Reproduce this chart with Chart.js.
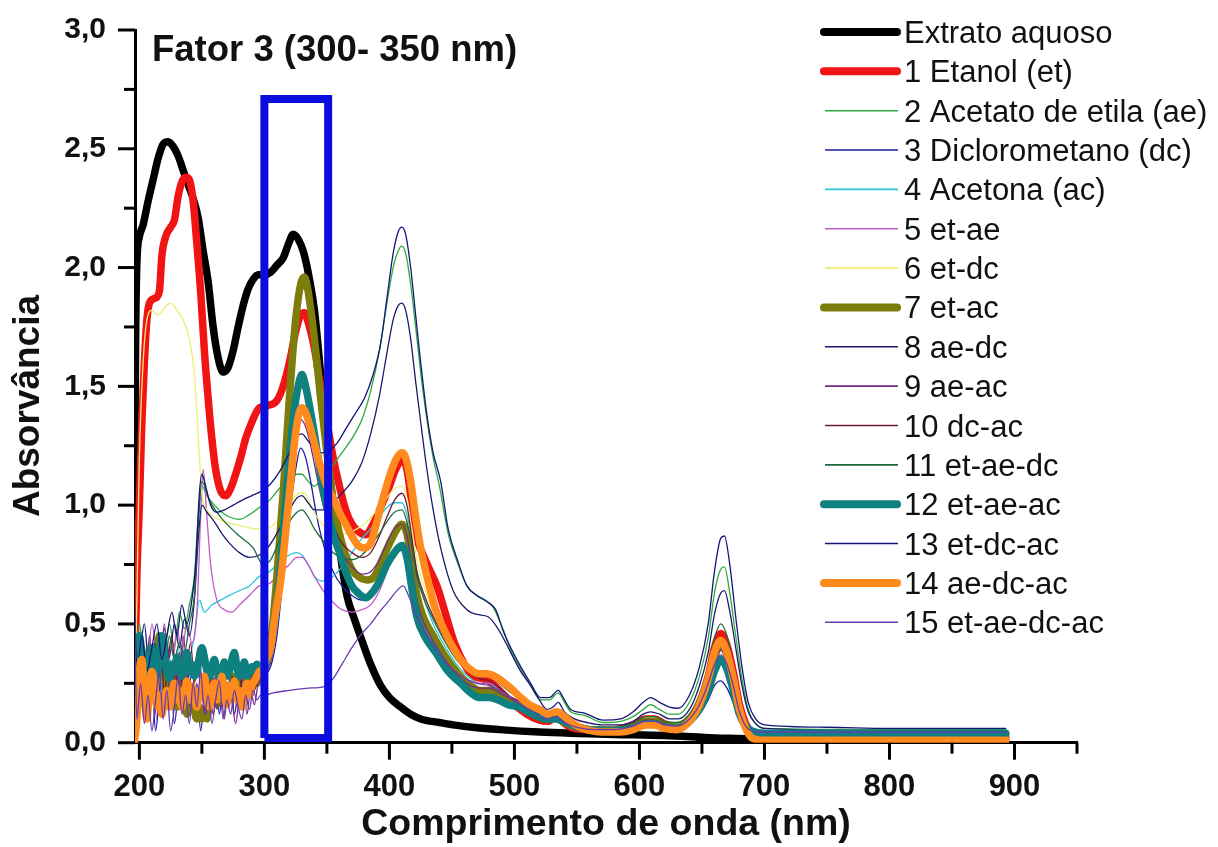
<!DOCTYPE html>
<html><head><meta charset="utf-8">
<script src="https://cdn.jsdelivr.net/npm/chart.js@4.4.1/dist/chart.umd.min.js"></script>
<style>html,body{margin:0;padding:0;background:#fff}#wrap{position:relative;width:1218px;height:847px}</style>
</head><body><div id="wrap"><canvas id="c"></canvas></div>
<script>
const FONT = "'Liberation Sans', Arial, Helvetica, sans-serif";

// ---- tick values / labels ----
const xMajorTicks = [200,300,400,500,600,700,800,900];
const xMinorTicks = [250,350,450,550,650,750,850,950];
const yMajorTicks = [0,0.5,1,1.5,2,2.5,3];
const yMinorTicks = [0.25,0.75,1.25,1.75,2.25,2.75];
const yTickLabels = ['0,0','0,5','1,0','1,5','2,0','2,5','3,0'];

// ---- series: [wavelength nm, absorbance] ----
const extrato = [[196,0.85],[197,1.7],[198,2.02],[200,2.13],[203,2.18],[207,2.28],[211,2.37],[215,2.46],[219,2.52],[223,2.53],[227,2.51],[231,2.47],[235,2.41],[239,2.35],[243,2.29],[247,2.21],[251,2.07],[255,1.94],[259,1.75],[263,1.62],[267,1.56],[271,1.58],[275,1.65],[279,1.75],[283,1.84],[287,1.91],[291,1.95],[295,1.97],[300,1.97],[305,1.98],[310,2.01],[315,2.04],[320,2.11],[323,2.14],[327,2.12],[331,2.07],[335,1.98],[340,1.82],[345,1.55],[350,1.25],[355,1.0],[360,0.82],[366,0.62],[372,0.52],[378,0.43],[385,0.33],[393,0.24],[400,0.19],[409,0.15],[417,0.12],[425,0.10],[440,0.085],[451,0.075],[470,0.063],[491,0.054],[520,0.045],[545,0.04],[580,0.035],[620,0.03],[660,0.02],[690,0.015],[700,0.01],[800,0.008],[893,0.005]];

const etanol = [[196,0.2],[198,0.7],[200,1.0],[202,1.35],[204,1.6],[206,1.78],[208,1.85],[212,1.87],[216,1.9],[218,2.05],[221,2.13],[225,2.17],[228,2.2],[231,2.3],[234,2.36],[237,2.38],[240,2.37],[243,2.28],[246,2.1],[249,1.9],[252,1.65],[255,1.45],[258,1.28],[261,1.15],[265,1.06],[269,1.04],[273,1.07],[277,1.13],[281,1.2],[285,1.28],[290,1.35],[296,1.41],[303,1.42],[310,1.44],[315,1.5],[320,1.6],[325,1.73],[329,1.8],[332,1.81],[335,1.77],[340,1.66],[345,1.5],[350,1.35],[355,1.2],[360,1.08],[365,0.98],[370,0.92],[375,0.89],[381,0.875],[387,0.92],[393,0.99],[400,1.08],[405,1.15],[410,1.19],[414,1.15],[418,1.0],[422,0.86],[427,0.79],[432,0.73],[438,0.66],[445,0.54],[452,0.42],[460,0.33],[467,0.28],[475,0.27],[482,0.25],[490,0.21],[500,0.16],[510,0.12],[520,0.095],[527,0.09],[533,0.11],[538,0.09],[545,0.065],[560,0.055],[580,0.055],[595,0.075],[605,0.1],[612,0.1],[620,0.08],[630,0.07],[640,0.1],[648,0.17],[655,0.28],[660,0.4],[665,0.46],[670,0.41],[675,0.3],[680,0.16],[685,0.08],[690,0.04],[700,0.025],[800,0.02],[893,0.02]];

const acetato = [[196,0.3],[200,0.5],[204,0.35],[208,0.42],[212,0.3],[216,0.45],[220,0.38],[224,0.5],[228,0.4],[232,0.55],[236,0.48],[240,0.58],[244,0.7],[247,0.95],[250,1.08],[254,1.04],[260,1.0],[266,0.97],[272,0.95],[280,0.94],[288,0.96],[296,0.99],[304,1.02],[312,1.07],[320,1.11],[326,1.13],[330,1.13],[335,1.1],[340,1.08],[347,1.12],[355,1.17],[362,1.22],[370,1.28],[378,1.36],[385,1.48],[392,1.65],[398,1.85],[403,2.0],[407,2.07],[410,2.09],[413,2.06],[417,1.93],[421,1.75],[425,1.56],[430,1.36],[435,1.2],[440,1.08],[447,0.88],[455,0.75],[462,0.66],[470,0.62],[477,0.6],[483,0.57],[490,0.49],[497,0.39],[505,0.31],[513,0.24],[521,0.18],[528,0.18],[535,0.21],[540,0.17],[545,0.13],[556,0.115],[571,0.085],[585,0.09],[595,0.11],[603,0.14],[609,0.16],[616,0.14],[624,0.12],[631,0.12],[640,0.17],[648,0.28],[655,0.44],[660,0.63],[665,0.73],[668,0.74],[672,0.64],[677,0.45],[682,0.27],[687,0.14],[693,0.08],[700,0.06],[800,0.055],[893,0.055]];

const diclorometano = [[196,0.05],[198,0.4],[201,0.15],[204,0.3],[207,0.1],[210,0.25],[213,0.05],[216,0.2],[219,0.35],[222,0.15],[225,0.3],[228,0.08],[231,0.22],[234,0.4],[237,0.18],[240,0.3],[243,0.1],[246,0.25],[249,0.05],[252,0.2],[255,0.32],[258,0.15],[261,0.28],[264,0.12],[267,0.25],[270,0.18],[273,0.3],[276,0.12],[279,0.22],[282,0.28],[285,0.15],[288,0.25],[291,0.2],[294,0.28],[297,0.25],[300,0.28],[305,0.32],[310,0.45],[315,0.7],[320,0.95],[325,1.15],[329,1.24],[333,1.2],[337,1.1],[342,0.95],[348,0.82],[355,0.72],[362,0.66],[370,0.62],[378,0.6],[385,0.61],[392,0.66],[398,0.73],[404,0.79],[410,0.81],[414,0.76],[418,0.64],[422,0.53],[428,0.45],[437,0.38],[447,0.31],[457,0.26],[465,0.23],[472,0.22],[480,0.22],[488,0.2],[495,0.18],[505,0.15],[515,0.12],[525,0.09],[533,0.09],[540,0.075],[550,0.06],[565,0.05],[580,0.05],[595,0.06],[605,0.075],[612,0.075],[620,0.065],[630,0.06],[640,0.08],[648,0.12],[655,0.18],[660,0.24],[665,0.26],[670,0.23],[675,0.17],[680,0.1],[685,0.06],[690,0.05],[700,0.045],[800,0.045],[893,0.045]];

const acetona = [[196,0.0],[200,0.2],[204,0.4],[208,0.25],[212,0.35],[216,0.2],[220,0.3],[224,0.15],[228,0.28],[232,0.4],[236,0.25],[240,0.35],[244,0.45],[248,0.6],[252,0.55],[258,0.58],[265,0.6],[272,0.62],[280,0.64],[288,0.66],[296,0.7],[304,0.72],[312,0.76],[320,0.79],[326,0.8],[330,0.79],[335,0.75],[340,0.7],[347,0.68],[355,0.7],[362,0.74],[370,0.8],[378,0.86],[385,0.9],[392,0.95],[398,0.99],[404,1.01],[410,1.01],[414,0.96],[418,0.85],[422,0.72],[428,0.6],[435,0.5],[445,0.4],[455,0.32],[465,0.27],[472,0.25],[480,0.25],[488,0.22],[495,0.2],[505,0.16],[515,0.13],[525,0.11],[533,0.12],[540,0.095],[550,0.075],[565,0.06],[580,0.06],[595,0.075],[605,0.1],[612,0.1],[620,0.085],[630,0.08],[640,0.11],[648,0.18],[655,0.29],[660,0.39],[665,0.44],[670,0.4],[675,0.29],[680,0.15],[685,0.08],[690,0.055],[700,0.045],[800,0.045],[893,0.045]];

const etAe = [[196,0.5],[198,0.2],[202,0.45],[206,0.3],[210,0.5],[214,0.35],[218,0.28],[222,0.42],[226,0.3],[230,0.48],[234,0.38],[238,0.5],[242,0.42],[246,0.55],[249,0.95],[251,1.15],[254,0.95],[257,0.75],[262,0.6],[268,0.56],[274,0.55],[280,0.58],[288,0.62],[296,0.66],[304,0.67],[312,0.71],[320,0.75],[326,0.78],[330,0.78],[335,0.75],[340,0.7],[347,0.64],[355,0.59],[362,0.56],[370,0.55],[378,0.56],[385,0.58],[392,0.64],[398,0.72],[404,0.8],[410,0.83],[414,0.78],[418,0.66],[422,0.55],[428,0.47],[435,0.41],[445,0.34],[455,0.29],[465,0.26],[472,0.25],[480,0.25],[488,0.23],[495,0.2],[505,0.16],[515,0.13],[525,0.1],[533,0.11],[540,0.09],[550,0.07],[565,0.055],[580,0.055],[595,0.07],[605,0.09],[612,0.09],[620,0.075],[630,0.07],[640,0.1],[648,0.16],[655,0.26],[660,0.35],[665,0.39],[670,0.35],[675,0.26],[680,0.14],[685,0.07],[690,0.045],[700,0.035],[800,0.035],[893,0.035]];

const etDc = [[196,0.1],[198,0.6],[200,1.2],[203,1.6],[206,1.78],[210,1.82],[215,1.8],[220,1.83],[225,1.85],[230,1.82],[235,1.78],[240,1.7],[244,1.55],[247,1.3],[250,1.05],[254,0.98],[260,0.95],[268,0.93],[276,0.92],[284,0.91],[292,0.9],[300,0.9],[308,0.92],[316,0.98],[322,1.02],[328,1.05],[332,1.05],[337,1.0],[342,0.95],[350,0.9],[358,0.88],[366,0.88],[374,0.9],[382,0.93],[390,0.98],[398,1.03],[404,1.07],[410,1.08],[414,1.03],[418,0.9],[422,0.77],[428,0.65],[435,0.55],[445,0.44],[455,0.35],[465,0.3],[472,0.28],[480,0.28],[488,0.25],[495,0.22],[505,0.18],[515,0.14],[525,0.12],[533,0.13],[540,0.1],[550,0.08],[565,0.065],[580,0.065],[595,0.08],[605,0.105],[612,0.105],[620,0.09],[630,0.085],[640,0.12],[648,0.2],[655,0.31],[660,0.4],[665,0.44],[670,0.4],[675,0.29],[680,0.15],[685,0.08],[690,0.055],[700,0.045],[800,0.045],[893,0.045]];

const etAc = [[196,0.05],[198,0.3],[200,0.42],[202,0.25],[204,0.18],[206,0.3],[208,0.38],[210,0.28],[212,0.22],[214,0.35],[216,0.45],[218,0.4],[220,0.3],[222,0.18],[224,0.22],[226,0.3],[228,0.2],[230,0.15],[232,0.25],[234,0.3],[236,0.2],[238,0.12],[240,0.18],[242,0.22],[244,0.14],[246,0.1],[248,0.15],[250,0.1],[252,0.14],[254,0.1],[256,0.18],[258,0.26],[260,0.2],[262,0.16],[264,0.22],[266,0.28],[268,0.2],[270,0.24],[272,0.18],[274,0.22],[276,0.28],[278,0.22],[280,0.2],[282,0.26],[284,0.22],[286,0.28],[288,0.24],[290,0.26],[292,0.28],[294,0.25],[296,0.3],[298,0.3],[300,0.32],[305,0.42],[310,0.7],[315,1.05],[320,1.45],[325,1.78],[329,1.93],[332,1.96],[335,1.9],[340,1.7],[345,1.45],[350,1.22],[355,1.02],[360,0.88],[365,0.79],[370,0.73],[375,0.7],[382,0.685],[388,0.7],[395,0.78],[403,0.87],[410,0.92],[414,0.88],[418,0.75],[422,0.62],[427,0.53],[435,0.45],[445,0.36],[455,0.29],[465,0.24],[472,0.22],[480,0.22],[488,0.2],[495,0.18],[505,0.15],[515,0.12],[525,0.1],[533,0.105],[540,0.085],[550,0.065],[565,0.05],[580,0.05],[595,0.065],[605,0.09],[612,0.09],[620,0.075],[630,0.065],[640,0.095],[648,0.16],[655,0.26],[660,0.36],[665,0.41],[670,0.37],[675,0.27],[680,0.14],[685,0.07],[690,0.045],[700,0.035],[800,0.035],[893,0.035]];

const aeDc = [[196,0.2],[200,0.35],[204,0.5],[208,0.3],[212,0.42],[216,0.3],[220,0.48],[224,0.36],[228,0.5],[232,0.4],[236,0.52],[240,0.45],[244,0.6],[247,0.85],[250,1.0],[254,0.97],[260,0.93],[266,0.88],[272,0.84],[280,0.8],[288,0.78],[296,0.79],[304,0.83],[312,0.9],[320,0.98],[326,1.03],[330,1.04],[335,1.01],[340,0.98],[347,0.98],[355,1.01],[362,1.05],[370,1.1],[378,1.18],[385,1.3],[392,1.46],[398,1.64],[403,1.78],[407,1.84],[410,1.85],[413,1.82],[417,1.7],[421,1.52],[425,1.35],[430,1.15],[435,0.98],[441,0.82],[451,0.64],[462,0.56],[470,0.54],[479,0.53],[488,0.47],[497,0.38],[505,0.3],[513,0.24],[520,0.18],[526,0.14],[531,0.15],[535,0.17],[540,0.13],[548,0.1],[558,0.085],[570,0.075],[585,0.075],[595,0.09],[603,0.12],[609,0.13],[616,0.12],[624,0.1],[631,0.1],[640,0.14],[648,0.24],[655,0.38],[660,0.54],[665,0.63],[668,0.64],[672,0.56],[677,0.4],[682,0.24],[687,0.13],[693,0.08],[700,0.06],[800,0.05],[893,0.05]];

const aeAc = [[196,0.3],[199,0.1],[202,0.35],[205,0.2],[208,0.45],[211,0.25],[214,0.1],[217,0.3],[220,0.5],[223,0.28],[226,0.15],[229,0.35],[232,0.22],[235,0.45],[238,0.3],[241,0.15],[244,0.28],[247,0.4],[250,0.25],[253,0.12],[256,0.2],[259,0.3],[262,0.14],[265,0.22],[268,0.1],[271,0.25],[274,0.18],[277,0.08],[280,0.2],[283,0.28],[286,0.12],[289,0.22],[292,0.16],[295,0.25],[298,0.28],[302,0.3],[306,0.36],[310,0.5],[315,0.78],[320,1.05],[325,1.27],[329,1.36],[333,1.33],[337,1.25],[342,1.12],[348,0.98],[355,0.88],[362,0.8],[370,0.74],[378,0.71],[385,0.72],[392,0.77],[398,0.84],[404,0.9],[410,0.92],[414,0.87],[418,0.74],[422,0.6],[428,0.5],[437,0.41],[447,0.33],[457,0.27],[465,0.24],[472,0.23],[480,0.23],[488,0.21],[495,0.19],[505,0.16],[515,0.12],[525,0.1],[533,0.105],[540,0.085],[550,0.065],[565,0.05],[580,0.05],[595,0.065],[605,0.085],[612,0.085],[620,0.07],[630,0.065],[640,0.095],[648,0.15],[655,0.25],[660,0.34],[665,0.39],[670,0.35],[675,0.25],[680,0.13],[685,0.07],[690,0.045],[700,0.035],[800,0.035],[893,0.035]];

const dcAc = [[196,0.15],[199,0.4],[202,0.2],[205,0.35],[208,0.15],[211,0.4],[214,0.25],[217,0.42],[220,0.2],[223,0.35],[226,0.45],[229,0.25],[232,0.38],[235,0.2],[238,0.32],[241,0.42],[244,0.25],[247,0.35],[250,0.18],[253,0.3],[256,0.25],[259,0.12],[262,0.25],[265,0.32],[268,0.2],[271,0.15],[274,0.28],[277,0.22],[280,0.3],[283,0.18],[286,0.26],[289,0.3],[292,0.22],[295,0.28],[298,0.3],[302,0.33],[306,0.42],[310,0.6],[315,0.92],[320,1.22],[325,1.42],[329,1.5],[333,1.46],[337,1.36],[342,1.2],[348,1.04],[355,0.92],[362,0.84],[370,0.8],[378,0.78],[385,0.8],[392,0.87],[398,0.95],[404,1.02],[410,1.05],[414,1.0],[418,0.86],[422,0.72],[428,0.62],[437,0.51],[447,0.41],[457,0.33],[465,0.29],[472,0.27],[480,0.26],[488,0.23],[495,0.2],[505,0.17],[515,0.13],[525,0.1],[533,0.115],[540,0.09],[550,0.065],[565,0.055],[580,0.055],[595,0.07],[605,0.095],[612,0.095],[620,0.08],[630,0.07],[640,0.1],[648,0.17],[655,0.28],[660,0.39],[665,0.44],[670,0.4],[675,0.29],[680,0.15],[685,0.08],[690,0.045],[700,0.03],[800,0.03],[893,0.03]];

const etAeDc = [[196,0.1],[200,0.4],[204,0.25],[208,0.38],[212,0.28],[216,0.4],[220,0.3],[224,0.45],[228,0.35],[232,0.42],[236,0.38],[240,0.5],[244,0.62],[247,0.9],[250,1.1],[256,1.02],[262,0.97],[270,0.92],[280,0.87],[291,0.82],[299,0.75],[305,0.77],[312,0.85],[320,0.93],[326,0.97],[330,0.98],[335,0.95],[340,0.9],[347,0.85],[355,0.8],[362,0.78],[370,0.77],[378,0.79],[385,0.83],[392,0.88],[398,0.93],[404,0.97],[410,0.98],[414,0.93],[418,0.82],[422,0.7],[428,0.6],[435,0.52],[445,0.42],[455,0.34],[465,0.3],[472,0.28],[480,0.28],[488,0.25],[495,0.22],[505,0.18],[515,0.14],[525,0.12],[533,0.13],[540,0.1],[550,0.08],[565,0.065],[580,0.065],[595,0.08],[605,0.11],[612,0.11],[620,0.09],[630,0.085],[640,0.12],[648,0.2],[655,0.32],[660,0.44],[665,0.5],[670,0.45],[675,0.32],[680,0.17],[685,0.09],[690,0.06],[700,0.05],[800,0.045],[893,0.045]];

const etAeAc = [[196,0.1],[198,0.3],[200,0.45],[202,0.38],[204,0.3],[206,0.25],[208,0.35],[210,0.4],[212,0.3],[214,0.28],[216,0.36],[218,0.45],[220,0.38],[222,0.3],[224,0.27],[226,0.33],[228,0.3],[230,0.36],[232,0.3],[234,0.28],[236,0.32],[238,0.38],[240,0.3],[242,0.33],[244,0.28],[246,0.3],[248,0.36],[250,0.4],[252,0.36],[254,0.3],[256,0.28],[258,0.32],[260,0.35],[262,0.3],[264,0.28],[266,0.3],[268,0.34],[270,0.28],[272,0.3],[274,0.35],[276,0.38],[278,0.32],[280,0.28],[282,0.3],[284,0.34],[286,0.28],[288,0.3],[290,0.32],[292,0.3],[294,0.33],[296,0.32],[298,0.3],[300,0.32],[304,0.38],[308,0.5],[312,0.68],[316,0.95],[320,1.2],[324,1.4],[327,1.5],[330,1.55],[333,1.5],[336,1.42],[340,1.3],[345,1.13],[350,0.99],[355,0.88],[360,0.8],[365,0.72],[370,0.66],[375,0.63],[381,0.61],[386,0.63],[392,0.68],[398,0.75],[404,0.8],[410,0.83],[414,0.78],[418,0.65],[422,0.53],[428,0.45],[437,0.38],[447,0.3],[457,0.25],[465,0.21],[472,0.19],[480,0.19],[487,0.18],[495,0.16],[503,0.15],[515,0.12],[525,0.1],[533,0.1],[540,0.09],[548,0.07],[560,0.055],[580,0.05],[595,0.06],[605,0.08],[612,0.08],[620,0.065],[630,0.06],[640,0.09],[648,0.14],[655,0.22],[660,0.3],[665,0.35],[670,0.31],[675,0.22],[680,0.12],[685,0.07],[690,0.05],[700,0.04],[800,0.04],[893,0.04]];

const etDcAc = [[196,0.6],[198,0.3],[202,0.45],[206,0.3],[210,0.4],[214,0.5],[218,0.35],[222,0.45],[226,0.55],[230,0.45],[234,0.58],[238,0.5],[242,0.6],[245,0.75],[248,1.05],[250,1.13],[253,1.08],[257,1.0],[262,0.97],[268,0.98],[275,1.0],[282,1.02],[290,1.04],[298,1.06],[305,1.09],[312,1.14],[320,1.22],[326,1.29],[330,1.3],[335,1.27],[340,1.24],[346,1.22],[352,1.23],[358,1.26],[365,1.32],[372,1.38],[380,1.45],[387,1.55],[393,1.68],[398,1.87],[403,2.06],[407,2.15],[410,2.17],[413,2.14],[417,2.0],[421,1.8],[425,1.6],[430,1.38],[435,1.22],[441,1.1],[447,0.9],[455,0.76],[462,0.66],[470,0.62],[479,0.59],[485,0.56],[491,0.47],[498,0.39],[505,0.32],[513,0.25],[521,0.19],[528,0.19],[535,0.22],[540,0.18],[545,0.14],[556,0.125],[571,0.095],[585,0.1],[595,0.13],[603,0.17],[609,0.19],[616,0.17],[624,0.15],[631,0.145],[640,0.2],[648,0.32],[655,0.5],[660,0.72],[665,0.86],[668,0.87],[672,0.76],[677,0.53],[682,0.32],[687,0.17],[693,0.1],[700,0.075],[750,0.065],[800,0.06],[893,0.06]];

const aeDcAc = [[196,0.0],[198,0.1],[200,0.3],[202,0.35],[204,0.2],[206,0.1],[208,0.22],[210,0.3],[212,0.25],[214,0.15],[216,0.2],[218,0.12],[220,0.18],[222,0.22],[224,0.15],[226,0.2],[228,0.25],[230,0.18],[232,0.22],[234,0.15],[236,0.2],[238,0.26],[240,0.18],[242,0.24],[244,0.2],[246,0.15],[248,0.22],[250,0.2],[252,0.28],[254,0.2],[256,0.15],[258,0.22],[260,0.25],[262,0.18],[264,0.22],[266,0.28],[268,0.2],[270,0.16],[272,0.24],[274,0.2],[276,0.26],[278,0.18],[280,0.22],[282,0.15],[284,0.2],[286,0.25],[288,0.2],[290,0.24],[292,0.26],[294,0.28],[296,0.3],[298,0.3],[300,0.33],[305,0.4],[309,0.55],[313,0.68],[318,0.94],[321,1.1],[324,1.26],[327,1.37],[330,1.41],[333,1.39],[336,1.34],[340,1.26],[345,1.16],[350,1.08],[355,1.03],[360,0.97],[365,0.92],[370,0.87],[375,0.83],[380,0.82],[385,0.84],[390,0.93],[395,1.03],[400,1.12],[405,1.19],[410,1.22],[413,1.2],[417,1.1],[421,0.95],[425,0.82],[430,0.7],[437,0.56],[445,0.46],[452,0.39],[460,0.33],[467,0.3],[472,0.29],[478,0.29],[484,0.28],[490,0.26],[497,0.23],[505,0.19],[512,0.16],[520,0.14],[527,0.12],[534,0.13],[540,0.11],[547,0.08],[555,0.06],[570,0.045],[585,0.045],[595,0.055],[605,0.075],[612,0.075],[620,0.06],[630,0.055],[640,0.09],[648,0.16],[655,0.27],[660,0.38],[665,0.43],[670,0.38],[675,0.27],[680,0.14],[685,0.06],[690,0.02],[700,0.01],[800,0.01],[893,0.01]];

const etAeDcAc = [[196,0.55],[198,0.1],[201,0.25],[204,0.08],[207,0.2],[210,0.05],[213,0.18],[216,0.3],[219,0.1],[222,0.22],[225,0.05],[228,0.15],[231,0.28],[234,0.12],[237,0.2],[240,0.08],[243,0.25],[246,0.15],[249,0.3],[252,0.12],[255,0.2],[258,0.08],[261,0.18],[264,0.26],[267,0.1],[270,0.18],[273,0.12],[276,0.22],[279,0.15],[282,0.1],[285,0.2],[288,0.14],[291,0.22],[294,0.18],[297,0.2],[300,0.2],[307,0.21],[320,0.22],[335,0.23],[347,0.235],[355,0.27],[362,0.33],[370,0.4],[378,0.46],[385,0.5],[392,0.55],[400,0.6],[406,0.64],[411,0.66],[416,0.61],[422,0.53],[430,0.45],[440,0.37],[450,0.31],[460,0.27],[470,0.25],[480,0.24],[488,0.22],[495,0.2],[505,0.16],[515,0.13],[525,0.1],[533,0.11],[540,0.085],[550,0.065],[565,0.055],[580,0.055],[595,0.07],[605,0.09],[612,0.09],[620,0.075],[630,0.07],[640,0.1],[648,0.16],[655,0.25],[660,0.33],[665,0.37],[670,0.33],[675,0.24],[680,0.13],[685,0.07],[690,0.05],[700,0.045],[800,0.045],[893,0.045]];

// highlight box (Fator 3 window)
const boxWl  = [300,300,351,351,300];
const boxAbs = [0.02,2.71,2.71,0.02,0.02];

const seriesLabels = ['Extrato aquoso','1 Etanol (et)','2 Acetato de etila (ae)','3 Diclorometano (dc)','4 Acetona (ac)','5 et-ae','6 et-dc','7 et-ac','8 ae-dc','9 ae-ac','10 dc-ac','11 et-ae-dc','12 et-ae-ac','13 et-dc-ac','14 ae-dc-ac','15 et-ae-dc-ac'];
const seriesData = [extrato,etanol,acetato,diclorometano,acetona,etAe,etDc,etAc,aeDc,aeAc,dcAc,etAeDc,etAeAc,etDcAc,aeDcAc,etAeDcAc];
const seriesColors = ['#000000','#f01414','#2caa3a','#1c1ca0','#28c4d8','#c458c8','#eeee70','#7d7d0c','#1a1a6e','#7a2a8a','#701838','#1d6a3a','#0f8080','#15157a','#ff8a1e','#6a3ab0'];
const seriesThick = [true,true,false,false,false,false,false,true,false,false,false,false,true,false,true,false];

const datasets = seriesData.map((d,i)=>({
  label: seriesLabels[i],
  data: d.map(([x,y])=>({x,y})),
  borderColor: seriesColors[i],
  backgroundColor: seriesColors[i],
  borderWidth: seriesThick[i] ? 7.5 : 1.3,
  pointRadius: 0,
  fill: false,
  cubicInterpolationMode: 'monotone',
  borderJoinStyle: 'round',
  borderCapStyle: 'round',
  order: 100 - i
}));
datasets.push({
  label: 'box',
  data: boxWl.map((x,i)=>({x, y: boxAbs[i]})),
  borderColor: '#0c0cdc',
  borderWidth: 8,
  pointRadius: 0,
  fill: false,
  tension: 0,
  borderJoinStyle: 'miter',
  order: 0
});

const decor = {
  id: 'decor',
  afterDraw(chart) {
    const ctx = chart.ctx, xs = chart.scales.x, ys = chart.scales.y, a = chart.chartArea;
    ctx.save();
    ctx.strokeStyle = '#000'; ctx.lineWidth = 3; ctx.lineCap = 'butt';
    const tick = (x1,y1,x2,y2)=>{ctx.beginPath();ctx.moveTo(x1,y1);ctx.lineTo(x2,y2);ctx.stroke();};
    xMajorTicks.forEach(v=>{const p=xs.getPixelForValue(v); tick(p,a.bottom,p,a.bottom+17);});
    xMinorTicks.forEach(v=>{const p=xs.getPixelForValue(v); tick(p,a.bottom,p,a.bottom+11);});
    yMajorTicks.forEach(v=>{const p=ys.getPixelForValue(v); tick(a.left,p,a.left-17,p);});
    yMinorTicks.forEach(v=>{const p=ys.getPixelForValue(v); tick(a.left,p,a.left-11,p);});
    // panel title
    ctx.fillStyle = '#111';
    ctx.font = 'bold 36.5px ' + FONT;
    ctx.textAlign = 'left'; ctx.textBaseline = 'alphabetic';
    ctx.fillText('Fator 3 (300- 350 nm)', 152, 61);
    // y axis title
    ctx.save();
    ctx.translate(29, 406); ctx.rotate(-Math.PI/2);
    ctx.font = 'bold 37px ' + FONT; ctx.textAlign = 'center'; ctx.textBaseline = 'middle';
    ctx.fillText('Absorvância', 0, 0);
    ctx.restore();
    // legend
    ctx.font = '31px ' + FONT;
    ctx.textAlign = 'left'; ctx.textBaseline = 'alphabetic';
    seriesLabels.forEach((lab,i)=>{
      const y = 32 + i*39.35;
      ctx.strokeStyle = seriesColors[i];
      if (seriesThick[i]) { ctx.lineWidth = 8; ctx.lineCap = 'round'; ctx.beginPath(); ctx.moveTo(824,y); ctx.lineTo(897,y); ctx.stroke(); }
      else { ctx.lineWidth = 1.6; ctx.lineCap = 'butt'; ctx.beginPath(); ctx.moveTo(825,y); ctx.lineTo(898,y); ctx.stroke(); }
      ctx.fillStyle = '#111';
      ctx.fillText(lab, 904, y + 11);
    });
    ctx.restore();
  }
};

Chart.defaults.font.family = FONT;
Chart.defaults.color = '#111';

new Chart(document.getElementById('c'), {
  type: 'line',
  data: { datasets },
  options: {
    responsive: true,
    maintainAspectRatio: false,
    animation: false,
    devicePixelRatio: 1,
    layout: { padding: { left: 0, top: 30, right: 141, bottom: 0 } },
    plugins: { legend: { display: false }, tooltip: { enabled: false } },
    scales: {
      x: {
        type: 'linear', min: 196.5, max: 950,
        afterFit(s){ s.height = 104.3; },
        afterBuildTicks(s){ s.ticks = xMajorTicks.map(v=>({value:v})); },
        ticks: { autoSkip: false, maxRotation: 0, padding: 9, color: '#111', font: { size: 31, weight: 'bold' }, callback: v => String(v) },
        grid: { display: true, drawOnChartArea: false, drawTicks: true, tickLength: 17, tickColor: 'rgba(0,0,0,0)' },
        border: { display: true, color: '#000', width: 3 },
        title: { display: true, text: 'Comprimento de onda (nm)', color: '#111', font: { size: 37.5, weight: 'bold' }, padding: { top: 0, bottom: 0 } }
      },
      y: {
        type: 'linear', min: 0, max: 3,
        afterFit(s){ s.width = 135; },
        afterBuildTicks(s){ s.ticks = yMajorTicks.map(v=>({value:v})); },
        ticks: { autoSkip: false, padding: 12, color: '#111', font: { size: 30, weight: 'bold' }, callback: (v) => yTickLabels[yMajorTicks.indexOf(v)] ?? '' },
        grid: { display: true, drawOnChartArea: false, drawTicks: true, tickLength: 17, tickColor: 'rgba(0,0,0,0)' },
        border: { display: true, color: '#000', width: 3 },
        title: { display: false }
      }
    }
  },
  plugins: [decor]
});
</script>
</body></html>
